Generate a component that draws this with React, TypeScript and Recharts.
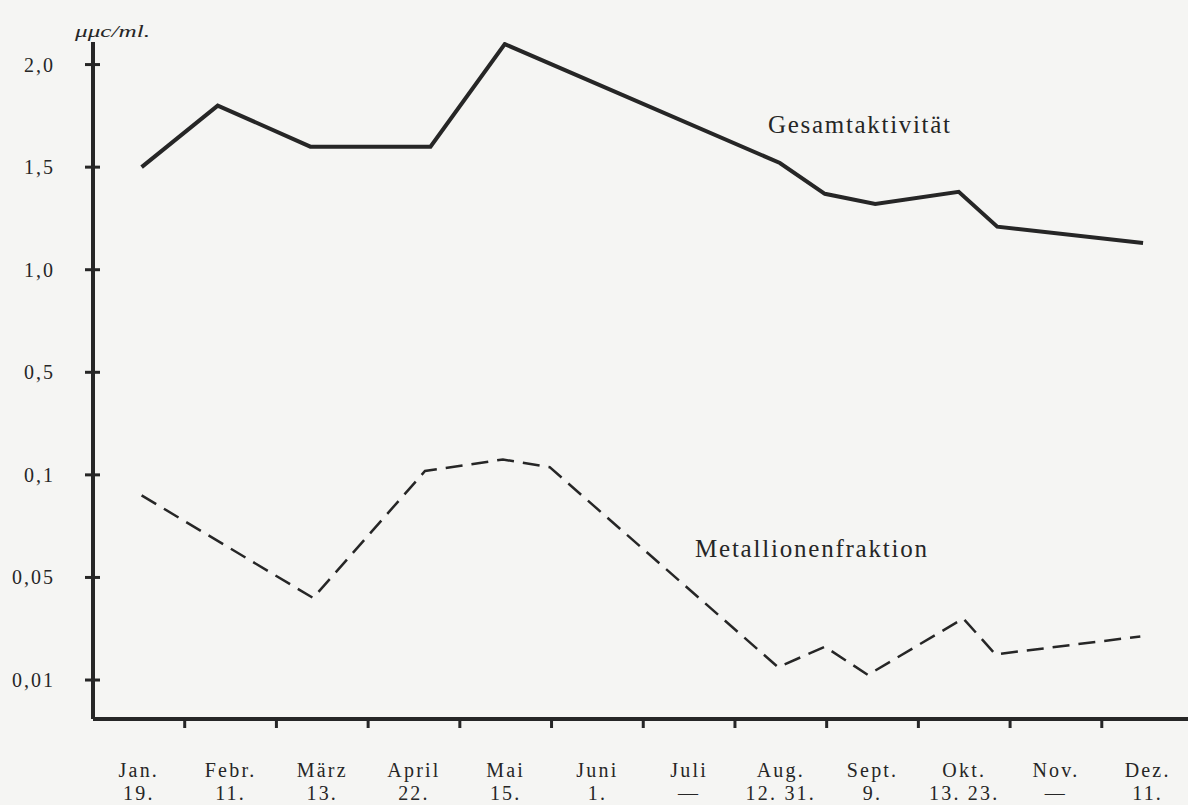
import React from 'react';
import { LineChart, Line, XAxis, YAxis } from 'recharts';

// ---- data ----
const monthLabels = ['Jan.', 'Febr.', 'März', 'April', 'Mai', 'Juni', 'Juli', 'Aug.', 'Sept.', 'Okt.', 'Nov.', 'Dez.'];
const dateLabels = ['19.', '11.', '13.', '22.', '15.', '1.', '—', '12. 31.', '9.', '13. 23.', '—', '11.'];

const yTickValues = [0.01, 0.05, 0.1, 0.5, 1.0, 1.5, 2.0];
const yTickLabels = ['0,01', '0,05', '0,1', '0,5', '1,0', '1,5', '2,0'];

// position along the year in months (0 = start of January)
const gesamtPos = [0.53, 1.36, 2.37, 3.68, 4.49, 7.49, 7.98, 8.53, 9.44, 9.86, 11.45];
const gesamtValues = [1.5, 1.8, 1.6, 1.6, 2.1, 1.52, 1.37, 1.32, 1.38, 1.21, 1.13];

const metallPos = [0.53, 2.4, 3.62, 4.47, 4.98, 7.47, 7.98, 8.45, 9.49, 9.84, 11.42];
const metallValues = [0.09, 0.042, 0.115, 0.16, 0.13, 0.015, 0.023, 0.012, 0.034, 0.02, 0.027];

// ---- piecewise axis (equal spacing between the labelled values) ----
const toAxis = (v: number): number => {
  const t = yTickValues;
  let i = 0;
  if (v <= t[0]) i = 0;
  else if (v >= t[t.length - 1]) i = t.length - 2;
  else {
    while (i < t.length - 2 && v > t[i + 1]) i++;
  }
  return i + (v - t[i]) / (t[i + 1] - t[i]);
};

const gesamtData = gesamtPos.map((x, i) => ({ x, y: toAxis(gesamtValues[i]) }));
const metallData = metallPos.map((x, i) => ({ x, y: toAxis(metallValues[i]) }));

const xTicks: number[] = [];
monthLabels.forEach((_, i) => {
  if (i > 0) xTicks.push(i);
  xTicks.push(i + 0.5);
});
const yTicks = yTickValues.map((_, i) => i);

const INK = '#262626';
const FONT = '"Liberation Serif", "Times New Roman", serif';

const XTick = (props: any) => {
  const { x, y, payload } = props;
  const v = payload.value as number;
  if (Number.isInteger(v)) {
    return <line x1={x} y1={y} x2={x} y2={y + 9} stroke={INK} strokeWidth={3} />;
  }
  const idx = Math.floor(v);
  return (
    <g>
      <text x={x} y={y + 58} textAnchor="middle" fontFamily={FONT} fontSize={20} letterSpacing={2.2} fill={INK}>
        {monthLabels[idx]}
      </text>
      <text x={x} y={y + 81} textAnchor="middle" fontFamily={FONT} fontSize={20} letterSpacing={2.2} fill={INK}>
        {dateLabels[idx]}
      </text>
    </g>
  );
};

const YTick = (props: any) => {
  const { x, y, payload } = props;
  const idx = payload.value as number;
  return (
    <g>
      <line x1={x - 8} y1={y} x2={x + 7} y2={y} stroke={INK} strokeWidth={3} />
      <text x={x - 38} y={y + 7} textAnchor="end" fontFamily={FONT} fontSize={20} letterSpacing={2} fill={INK}>
        {yTickLabels[idx]}
      </text>
    </g>
  );
};

export default function App() {
  return (
    <div style={{ position: 'absolute', left: 0, top: 0, width: 1188, height: 805, background: '#f5f5f3', overflow: 'hidden' }}>
      <LineChart width={1188} height={805} margin={{ top: 42, right: 0, bottom: 0, left: 0 }}>
        <XAxis
          type="number"
          dataKey="x"
          domain={[0, 11.94]}
          ticks={xTicks}
          interval={0}
          tick={<XTick />}
          tickLine={false}
          tickSize={0}
          tickMargin={0}
          height={86}
          axisLine={{ stroke: INK, strokeWidth: 4 }}
          allowDataOverflow
        />
        <YAxis
          type="number"
          dataKey="y"
          domain={[-0.38, 6.22]}
          ticks={yTicks}
          interval={0}
          tick={<YTick />}
          tickLine={false}
          tickSize={0}
          tickMargin={0}
          width={93}
          axisLine={{ stroke: INK, strokeWidth: 4 }}
          allowDataOverflow
        />
        <Line
          data={gesamtData}
          dataKey="y"
          type="linear"
          stroke={INK}
          strokeWidth={4}
          dot={false}
          activeDot={false}
          isAnimationActive={false}
        />
        <Line
          data={metallData}
          dataKey="y"
          type="linear"
          stroke={INK}
          strokeWidth={2.5}
          strokeDasharray="17 9"
          dot={false}
          activeDot={false}
          isAnimationActive={false}
        />
      </LineChart>
      <svg width={1188} height={805} style={{ position: 'absolute', left: 0, top: 0, pointerEvents: 'none' }}>
        <text x={75} y={37} fontFamily={FONT} fontStyle="italic" fontSize={17} textLength={75} lengthAdjust="spacingAndGlyphs" fill={INK}>
          μμc/ml.
        </text>
        <text x={768} y={133} fontFamily={FONT} fontSize={25} textLength={182} lengthAdjust="spacing" fill={INK}>
          Gesamtaktivität
        </text>
        <text x={695} y={557} fontFamily={FONT} fontSize={25} textLength={232} lengthAdjust="spacing" fill={INK}>
          Metallionenfraktion
        </text>
      </svg>
    </div>
  );
}
